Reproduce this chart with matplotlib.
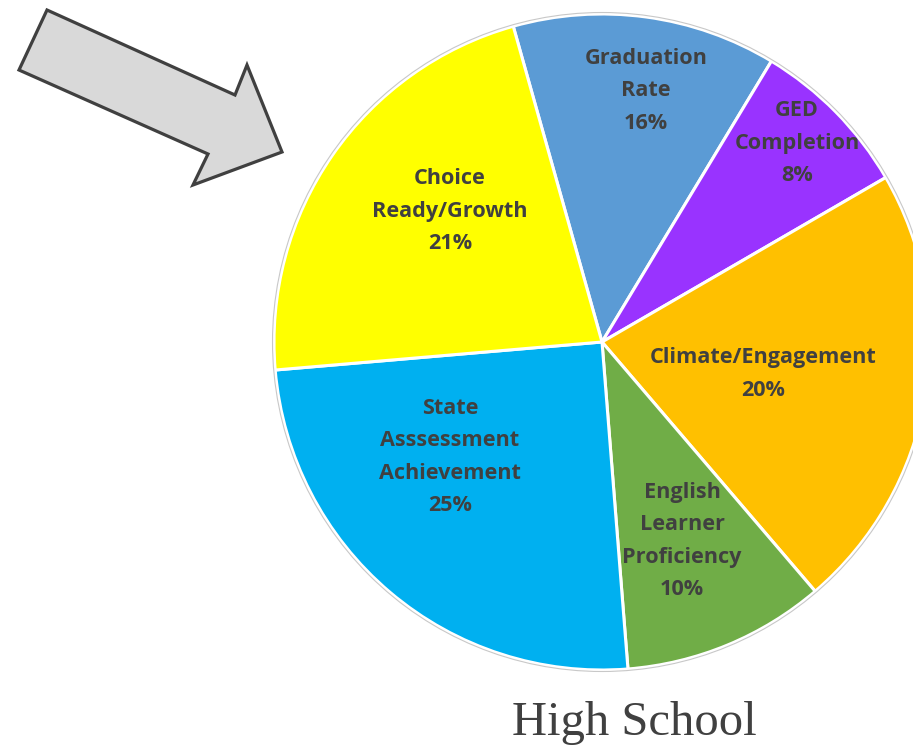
import matplotlib
matplotlib.use('Agg')
import matplotlib.pyplot as plt
from matplotlib.patches import Polygon, Circle

# slice sizes as drawn (degrees of the pie), labels as printed
names = ['Graduation\nRate', 'GED\nCompletion', 'Climate/Engagement',
         'English\nLearner\nProficiency', 'State\nAsssessment\nAchievement',
         'Choice\nReady/Growth']
sizes = [13.0, 8.0, 22.1, 10.0, 24.9, 22.0]
pct_labels = ['16%', '8%', '20%', '10%', '25%', '21%']
colors = ['#5B9BD5', '#9933FF', '#FFC000', '#70AD47', '#00B0F0', '#FFFF00']

# layout (pixel units, y up)
W, H = 913, 750
cx, cy, R = 602, 750 - 342, 328
label_xy = [(646, 91), (797, 143), (763, 374), (682, 541), (450, 457), (450, 211)]
arrow = [(47, 10), (235, 95), (247, 65), (282, 152), (193, 185), (208, 154), (19, 70)]

fig = plt.figure(figsize=(W / 100, H / 100), dpi=100)
ax = fig.add_axes([0, 0, 1, 1])

wedges, _ = ax.pie(sizes, colors=colors, startangle=105.7, counterclock=False,
                   center=(cx, cy), radius=R,
                   wedgeprops=dict(edgecolor='white', linewidth=2.2))
ax.add_patch(Circle((cx, cy), R + 1.5, fill=False, edgecolor='#C8C8C8', linewidth=0.8))

for name, pct, (lx, ly) in zip(names, pct_labels, label_xy):
    ax.text(lx, H - ly, name + '\n' + pct, ha='center', va='center',
            fontsize=15.6, fontweight='bold', family='Open Sans',
            color='#404040', linespacing=1.72)

ax.add_patch(Polygon([(x, H - y) for x, y in arrow], closed=True,
                     facecolor='#D9D9D9', edgecolor='#404040', linewidth=2.3,
                     joinstyle='miter'))

ax.text(634, H - 723, 'High School', ha='center', va='center',
        fontsize=35, family='Liberation Serif', color='#404040')

ax.set_xlim(0, W)
ax.set_ylim(0, H)
ax.set_aspect('equal')
ax.axis('off')

fig.savefig('out.png', dpi=100)
